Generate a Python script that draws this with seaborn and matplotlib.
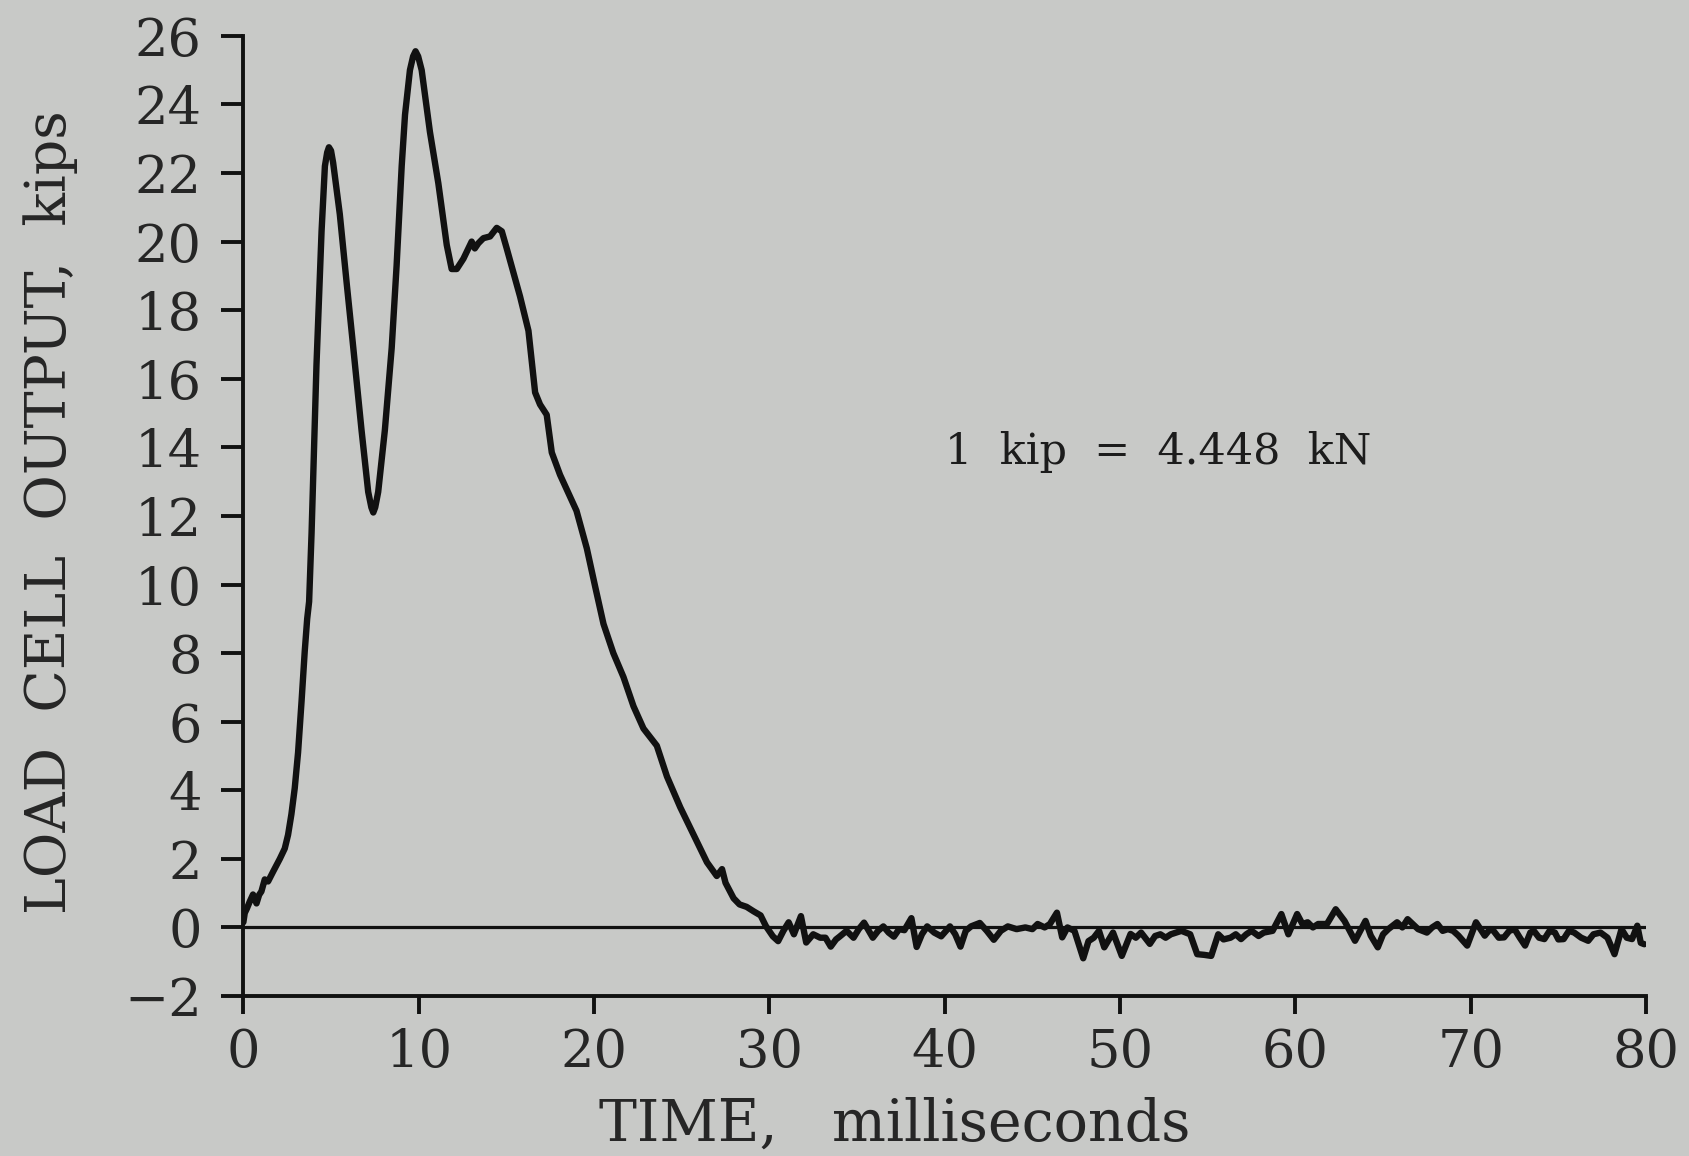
import numpy as np
import pandas as pd
import matplotlib
matplotlib.use("Agg")
import matplotlib.pyplot as plt
import seaborn as sns

# ---- data (time in ms, load in kips) ----
time_rise = [0.0, 0.08, 0.2, 0.37, 0.55, 0.75, 0.9, 1.03, 1.22, 1.41, 1.7, 2.08, 2.36, 2.55,
             2.74, 2.93, 3.12, 3.32, 3.5, 3.64, 3.75]
load_rise = [0.15, 0.42, 0.55, 0.76, 0.96, 0.7, 0.95, 1.05, 1.4, 1.34, 1.63, 2.0, 2.3, 2.7,
             3.3, 4.06, 5.1, 6.6, 8.05, 9.0, 9.5]

time_peaks = [3.89, 4.17, 4.46, 4.65, 4.78, 4.88, 5.0, 5.12, 5.5, 5.89, 6.27, 6.74, 7.12,
              7.3, 7.41, 7.52, 7.69, 8.07, 8.46, 8.74, 9.03, 9.22, 9.5, 9.68, 9.82, 9.97,
              10.17, 10.64, 11.12, 11.6, 11.88, 12.17, 12.55, 13.02, 13.2, 13.4, 13.69,
              14.07, 14.45, 14.74, 15.02, 15.4, 15.78, 16.26]
load_peaks = [11.5, 16.4, 20.3, 22.2, 22.6, 22.75, 22.65, 22.3, 20.8, 18.8, 16.9, 14.5, 12.7,
              12.25, 12.1, 12.25, 12.7, 14.5, 16.9, 19.3, 22.2, 23.7, 25.0, 25.4, 25.55, 25.4,
              25.0, 23.2, 21.7, 19.9, 19.2, 19.2, 19.5, 20.0, 19.8, 19.95, 20.1,
              20.15, 20.4, 20.3, 19.8, 19.1, 18.4, 17.4]

time_decay = [16.64, 16.92, 17.3, 17.59, 18.06, 19.0, 19.59, 20.06, 20.54, 21.1, 21.68,
              22.25, 22.82, 23.58, 24.16, 24.92, 25.68, 26.44, 27.0, 27.3, 27.5, 27.96,
              28.3, 28.7, 29.1, 29.5, 29.8, 30.2]
load_decay = [15.6, 15.25, 14.95, 13.85, 13.2, 12.15, 11.05, 9.95, 8.85, 8.0, 7.3,
              6.45, 5.8, 5.3, 4.4, 3.5, 2.7, 1.9, 1.5, 1.7, 1.3, 0.85,
              0.67, 0.6, 0.47, 0.35, 0.04, -0.26]

time_tail = [30.5, 30.8, 31.1, 31.4, 31.8, 32.1, 32.5, 32.9, 33.2, 33.5, 33.8, 34.0, 34.4,
             34.8, 35.1, 35.4, 35.9, 36.2, 36.5, 36.8, 37.1, 37.4, 37.7, 38.1, 38.4, 38.7,
             39.0, 39.4, 39.8, 40.3, 40.6, 40.9, 41.2, 41.5, 42.0, 42.4, 42.8, 43.2, 43.6,
             44.1, 44.6, 45.0, 45.3, 45.7, 46.0, 46.4, 46.7, 47.0, 47.4, 47.9, 48.2, 48.5,
             48.8, 49.1, 49.6, 50.1, 50.6, 50.9, 51.2, 51.7, 52.0, 52.3, 52.6, 52.9, 53.2,
             53.5, 54.0, 54.4, 54.8, 55.2, 55.6, 55.9, 56.3, 56.6, 56.9, 57.2, 57.5, 57.9,
             58.2, 58.7, 59.2, 59.6, 60.1, 60.4, 60.7, 61.0, 61.3, 61.8, 62.3, 62.8, 63.4,
             64.0, 64.3, 64.7, 65.0, 65.3, 65.8, 66.1, 66.4, 67.0, 67.5, 67.8, 68.1, 68.4,
             68.7, 69.0, 69.3, 69.8, 70.3, 70.8, 71.1, 71.3, 71.6, 71.9, 72.2, 72.5, 72.8,
             73.1, 73.4, 73.6, 73.9, 74.2, 74.5, 74.8, 75.0, 75.3, 75.6, 75.9, 76.3, 76.7,
             77.0, 77.4, 77.8, 78.2, 78.6, 78.9, 79.2, 79.5, 79.7, 79.9]
load_tail = [-0.4, -0.1, 0.15, -0.2, 0.33, -0.44, -0.2, -0.3, -0.3, -0.56, -0.35, -0.27, -0.1,
             -0.3, -0.05, 0.14, -0.3, -0.1, 0.03, -0.15, -0.27, -0.05, -0.08, 0.27, -0.57, -0.2,
             0.03, -0.15, -0.26, 0.03, -0.2, -0.56, -0.1, 0.03, 0.13, -0.1, -0.36, -0.1, 0.03,
             -0.05, 0.0, -0.05, 0.1, 0.0, 0.1, 0.43, -0.29, 0.0, -0.1, -0.9, -0.4, -0.3,
             -0.1, -0.58, -0.15, -0.83, -0.19, -0.3, -0.15, -0.48, -0.25, -0.2, -0.3, -0.2, -0.15,
             -0.1, -0.2, -0.78, -0.8, -0.83, -0.2, -0.35, -0.3, -0.2, -0.34, -0.2, -0.1, -0.25,
             -0.15, -0.1, 0.39, -0.2, 0.39, 0.1, 0.15, 0.0, 0.1, 0.1, 0.53, 0.19, -0.39,
             0.19, -0.24, -0.58, -0.2, -0.05, 0.15, 0.0, 0.24, -0.05, -0.15, 0.0, 0.1, -0.1,
             -0.05, -0.1, -0.24, -0.53, 0.15, -0.24, -0.05, -0.1, -0.3, -0.29, -0.1, -0.05, -0.3,
             -0.53, -0.15, -0.1, -0.3, -0.34, -0.1, -0.15, -0.35, -0.34, -0.1, -0.15, -0.3, -0.39,
             -0.2, -0.15, -0.3, -0.78, -0.05, -0.3, -0.34, 0.05, -0.45, -0.49]

x_ticks = [0, 10, 20, 30, 40, 50, 60, 70, 80]
y_ticks = [-2, 0, 2, 4, 6, 8, 10, 12, 14, 16, 18, 20, 22, 24, 26]
x_label = "TIME,   milliseconds"
y_label = "LOAD  CELL  OUTPUT,  kips"
note = "1  kip  =  4.448  kN"

df = pd.DataFrame({
    "time": time_rise + time_peaks + time_decay + time_tail,
    "load": load_rise + load_peaks + load_decay + load_tail,
})

bg = "#c8c9c7"
ink = "#111111"
txt = "#262626"

sns.set_theme(style="ticks")
plt.rcParams["font.family"] = ["DejaVu Serif"]
plt.rcParams["axes.edgecolor"] = ink
plt.rcParams["text.color"] = txt

fig = plt.figure(figsize=(16.9, 11.56), dpi=100, facecolor=bg)
ax = fig.add_axes([0.144, 0.1384, 0.830, 0.8306])
ax.set_facecolor(bg)

ax.axhline(0, color=ink, lw=2.3, zorder=1)
sns.lineplot(data=df, x="time", y="load", ax=ax, color=ink, lw=4.6, sort=False,
             estimator=None, zorder=2, solid_joinstyle="round", solid_capstyle="round")

ax.set_xlim(0, 80)
ax.set_ylim(-2, 26)
ax.set_xticks(x_ticks)
ax.set_yticks(y_ticks)
ax.set_yticklabels([str(v).replace("-", "\u2212") for v in y_ticks])
ax.tick_params(axis="both", labelsize=38, width=2.8, colors=ink, labelcolor=txt)
ax.tick_params(axis="x", length=13, pad=9)
ax.tick_params(axis="y", length=16, pad=14)

for s in ["top", "right"]:
    ax.spines[s].set_visible(False)
for s in ["left", "bottom"]:
    ax.spines[s].set_linewidth(2.8)

ax.set_xlabel(x_label, fontsize=41, color=txt)
ax.set_ylabel(y_label, fontsize=40, color=txt)
ax.xaxis.set_label_coords(0.464, -0.105)
ax.yaxis.set_label_coords(-0.118, 0.504)

ax.text(40.0, 13.5, note, fontsize=31, ha="left", va="baseline", color="#1c1c1c")

fig.savefig("out.png", dpi=100, facecolor=bg)
